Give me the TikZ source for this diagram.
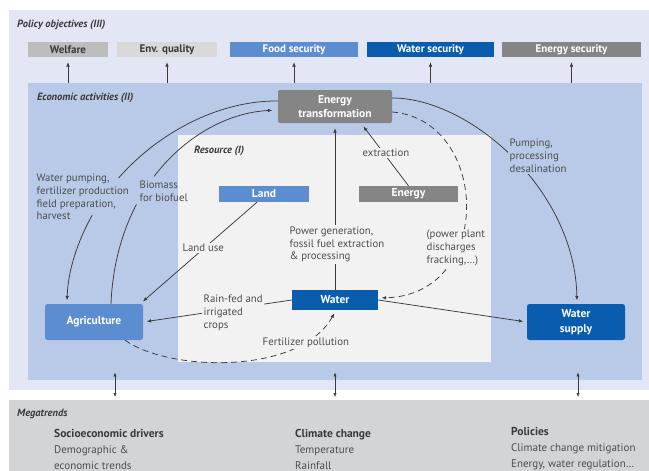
\documentclass[tikz,border=0pt]{standalone}
\usepackage{fontspec}
\setmainfont{PT Sans}
\usetikzlibrary{arrows.meta,calc}

\definecolor{lav}{HTML}{E3E7F5}
\definecolor{econ}{HTML}{B9C9E8}
\definecolor{res}{HTML}{F2F2F2}
\definecolor{mega}{HTML}{D3D4D6}
\definecolor{greyA}{HTML}{BDBDBD}
\definecolor{greyB}{HTML}{D9D9D9}
\definecolor{greyD}{HTML}{858585}
\definecolor{blueM}{HTML}{5B8DD0}
\definecolor{blueD}{HTML}{0A5CAE}
\definecolor{ink}{HTML}{3A3A3A}
\definecolor{lbl}{HTML}{4D4D4D}

\tikzset{
  panel/.style={draw=none, inner sep=0pt, anchor=north west},
  objbox/.style={inner sep=0pt, minimum height=15pt, font=\fontsize{11}{12}\selectfont\bfseries},
  actbox/.style={inner sep=0pt, rounded corners=2.5pt, text=white, align=center,
    font=\fontsize{11.5}{14.5}\selectfont\bfseries},
  resbox/.style={inner sep=0pt, text=white, font=\fontsize{11.5}{12}\selectfont\bfseries},
  heading/.style={anchor=west, inner sep=0pt, text=ink,
    font=\fontsize{10.5}{12}\selectfont\bfseries\itshape},
  note/.style={anchor=west, inner sep=1.5pt, align=left, text=lbl,
    font=\fontsize{10.8}{12.8}\selectfont},
  trend/.style={anchor=west, inner sep=0pt, align=left, text=lbl,
    font=\fontsize{11}{16}\selectfont},
  link/.style={draw=ink, line width=0.75pt},
  arrowlink/.style={link, -{Latex[length=4.5pt,width=3.6pt]}, shorten >=3.5pt},
  dbl/.style={link, line width=0.6pt, {Latex[length=4pt,width=3.2pt]}-{Latex[length=4pt,width=3.2pt]}},
  dashlink/.style={dash pattern=on 6pt off 4pt}
}

\begin{document}
\begin{tikzpicture}[x=1pt,y=-1pt]
\useasboundingbox (0,0) rectangle (649,471);
\fill[white] (0,0) rectangle (649,471);

% layered panels
\node[panel, fill=lav,  minimum width=640pt, minimum height=380pt] (outer) at (9,10) {};
\node[panel, fill=econ, minimum width=614pt, minimum height=297pt] (econ) at (28,83) {};
\node[panel, fill=res,  minimum width=313pt, minimum height=227pt] (resource) at (178,135) {};
\node[panel, fill=mega, minimum width=640pt, minimum height=71pt] (megapanel) at (9,400) {};

% panel headings
\node[heading] (h3) at (17,25) {Policy objectives (III)};
\node[heading] (h2) at (37,98) {Economic activities (II)};
\node[heading] (h1) at (194,151) {Resource (I)};
\node[heading] (h0) at (17,414) {Megatrends};

% policy objectives
\node[objbox, fill=greyA, text=ink, minimum width=80pt]  (welfare) at (68,49.5) {Welfare};
\node[objbox, fill=greyB, text=ink, minimum width=100pt] (envq)    at (167,49.5) {Env. quality};
\node[objbox, fill=blueM, text=white, minimum width=128pt] (foods) at (294,49.5) {Food security};
\node[objbox, fill=blueD, text=white, minimum width=127pt] (waters) at (430.5,49.5) {Water security};
\node[objbox, fill=greyD, text=white, minimum width=139pt] (energys) at (571.5,49.5) {Energy security};

% economic activities
\node[actbox, fill=greyD, minimum width=114pt, minimum height=33pt, rounded corners=2pt] (et) at (335,106.5) {Energy\\transformation};
\node[actbox, fill=blueM, minimum width=98pt, minimum height=36pt] (agri) at (94,322) {Agriculture};
\node[actbox, fill=blueD, minimum width=98pt, minimum height=36pt] (ws) at (576,322) {Water\\supply};

% resources
\node[resbox, fill=blueM, minimum width=90pt, minimum height=16pt] (land) at (264,194) {Land};
\node[resbox, fill=greyD, minimum width=99pt, minimum height=16pt] (energy) at (408.5,194) {Energy};
\node[resbox, fill=blueD, minimum width=86pt, minimum height=20pt] (water) at (335,300) {Water};

% objectives fed by the activities
\foreach \b in {welfare,envq,foods,waters,energys}
  \draw[arrowlink, shorten >=5pt, line width=0.6pt] (\b |- econ.north) -- (\b.south);

% links to the megatrends
\coordinate (m1) at (115,0);
\coordinate (m2) at (335,0);
\coordinate (m3) at (578,0);
\foreach \m in {m1,m2,m3}
  \draw[dbl] ($(\m |- econ.south)+(0,-8)$) -- ($(\m |- megapanel.north)+(0,-3)$);

% water pumping, fertilizer production ... (broken around its label)
\coordinate (wpA) at (118.6,178.0);
\coordinate (wpB) at (92.1,215.3);
\draw[link] ([yshift=5.5pt]et.west) .. controls (221.2,100.4) and (160.3,130.5) .. (wpA);
\draw[arrowlink] (wpB) .. controls (77.1,242.0) and (67.8,272.1) .. ([xshift=-27pt]agri.north);

% biomass for biofuel (broken around its label)
\coordinate (bioA) at (136.4,204.4);
\coordinate (bioB) at (154.2,176.3);
\draw[link] ([xshift=17pt]agri.north) .. controls (112.4,267.6) and (121.3,233.5) .. (bioA);
\draw[arrowlink, shorten >=5.5pt] (bioB) .. controls (183.4,137.8) and (226.1,112.7) .. ([yshift=-3.5pt]et.west);

% pumping, processing, desalination
\draw[arrowlink] ([yshift=8.5pt]et.east) .. controls (470,98) and (575,190) .. ([xshift=1pt]ws.north);

% power plant discharges, fracking
\draw[arrowlink, dashlink] ([yshift=-5.5pt]et.east) .. controls (490,120) and (495,295) .. ([yshift=2pt]water.east);

% fertilizer pollution
\draw[arrowlink, dashlink] ([xshift=31pt]agri.south) .. controls (170,372) and (300,375) .. ([xshift=1pt]water.south);

% straight links
\draw[arrowlink] ([xshift=-7pt]land.south) -- ([xshift=-3pt]agri.north east);
\draw[arrowlink, shorten >=5pt] (water.north) -- (et.south);
\draw[arrowlink, shorten >=4pt] (energy.north) -- ([xshift=26pt]et.south);
\draw[arrowlink] (water.east) -- (ws.west);
\draw[arrowlink] (water.west) -- (agri.east);

% link labels
\node[note] (nwp) at (35,197) {Water pumping,\\fertilizer production\\field preparation,\\harvest};
\node[note] (nbio) at (138,191.5) {Biomass\\for biofuel};
\node[note, fill=res] (nland) at (181,248) {Land use};
\node[note, fill=res] (npow) at (288,244.5) {Power generation,\\fossil fuel extraction\\\& processing};
\node[note, fill=res] (next) at (361,153) {extraction};
\node[note, fill=res] (nplant) at (425,248) {(power plant\\discharges\\fracking,…)};
\node[note, fill=econ] (npump) at (508,155.5) {Pumping,\\processing\\desalination};
\node[note, fill=res] (nrain) at (202,313) {Rain-fed and\\irrigated\\crops};
\node[note, fill=res] (nfert) at (261,343) {Fertilizer pollution};

% megatrend columns
\node[trend] (c1) at (54,449) {{\fontsize{11.5}{16}\selectfont\bfseries\color{ink}Socioeconomic drivers}\\Demographic \&\\economic trends};
\node[trend] (c2) at (295,449) {{\fontsize{11.5}{16}\selectfont\bfseries\color{ink}Climate change}\\Temperature\\Rainfall};
\node[trend] (c3) at (511,449) {{\fontsize{11.5}{16}\selectfont\bfseries\color{ink}Policies}\\Climate change mitigation\\Energy, water regulation…};
\end{tikzpicture}
\end{document}
